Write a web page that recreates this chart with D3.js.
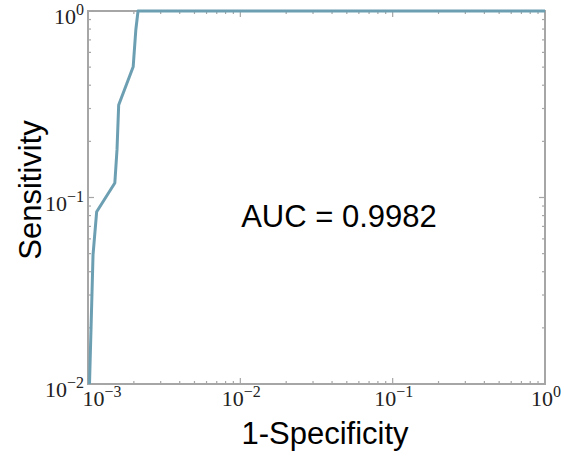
<!DOCTYPE html>
<html>
<head>
  <meta charset="UTF-8">
  <title>ROC curve</title>
  <script src="https://d3js.org/d3.v7.min.js"></script>
  <style>
    body { margin: 0; background: #fff; }
    .frame line, .frame path { stroke: #a6a6a6; }
    .tick-label { font-family: "Liberation Serif", "DejaVu Serif", serif; fill: #222; }
    .axis-title { font-family: "Liberation Sans", Arial, sans-serif; font-size: 31px; fill: #000; }
  </style>
</head>
<body>
  <div id="chart"></div>
  <script>
    // ROC points (false positive rate, true positive rate)
    const fpr = [1.023e-3, 1.079e-3, 1.14e-3, 1.50e-3, 1.55e-3, 1.59e-3, 1.98e-3, 2.06e-3, 2.13e-3, 1];
    const tpr = [0.01, 0.0492, 0.0839, 0.1196, 0.180, 0.313, 0.503, 0.791, 1, 1];
    const xTickExp = [-3, -2, -1, 0];
    const yTickExp = [-2, -1, 0];
    const aucText = "AUC = 0.9982";

    const W = 564, H = 457;
    const margin = {top: 11, right: 19, bottom: 73, left: 88};
    const w = W - margin.left - margin.right;
    const h = H - margin.top - margin.bottom;

    const svg = d3.select("#chart").append("svg")
      .attr("width", W)
      .attr("height", H);
    const g = svg.append("g")
      .attr("transform", `translate(${margin.left},${margin.top})`);

    const x = d3.scaleLog().domain([1e-3, 1]).range([0, w]);
    const y = d3.scaleLog().domain([1e-2, 1]).range([h, 0]);

    // minor + major ticks, drawn inward on all four sides
    const xTicks = x.ticks();
    const yTicks = y.ticks();
    const isMajor = v => Math.abs(Math.log10(v) - Math.round(Math.log10(v))) < 1e-9;

    const frame = g.append("g").attr("class", "frame");
    frame.append("rect")
      .attr("width", w).attr("height", h)
      .attr("fill", "none").attr("stroke", "#a6a6a6").attr("stroke-width", 2);

    xTicks.forEach(v => {
      const len = isMajor(v) ? 6 : 3;
      frame.append("line").attr("x1", x(v)).attr("x2", x(v)).attr("y1", h).attr("y2", h - len).attr("stroke-width", 1.2);
      frame.append("line").attr("x1", x(v)).attr("x2", x(v)).attr("y1", 0).attr("y2", len).attr("stroke-width", 1.2);
    });
    yTicks.forEach(v => {
      const len = isMajor(v) ? 6 : 3;
      frame.append("line").attr("y1", y(v)).attr("y2", y(v)).attr("x1", 0).attr("x2", len).attr("stroke-width", 1.2);
      frame.append("line").attr("y1", y(v)).attr("y2", y(v)).attr("x1", w).attr("x2", w - len).attr("stroke-width", 1.2);
    });

    // tick labels as 10^n
    function powLabel(sel, e) {
      sel.append("tspan").attr("font-size", 22).text("10");
      sel.append("tspan").attr("font-size", 16).attr("dy", -9)
        .text(e < 0 ? "\u2212" + (-e) : String(e));
    }
    xTickExp.forEach((e, i) => {
      const t = g.append("text").attr("class", "tick-label")
        .attr("x", x(Math.pow(10, e)) + (i === 0 ? 14 : 1))
        .attr("y", h + 22)
        .attr("text-anchor", "middle");
      powLabel(t, e);
    });
    yTickExp.forEach(e => {
      const t = g.append("text").attr("class", "tick-label")
        .attr("x", -4)
        .attr("y", y(Math.pow(10, e)) + 13)
        .attr("text-anchor", "end");
      powLabel(t, e);
    });

    // ROC curve
    const pts = fpr.map((d, i) => [d, tpr[i]]);
    g.append("path")
      .datum(pts)
      .attr("fill", "none")
      .attr("stroke", "#6d9fb3")
      .attr("stroke-width", 3)
      .attr("stroke-linejoin", "round")
      .attr("d", d3.line().x(d => x(d[0])).y(d => y(d[1])));

    // titles
    svg.append("text").attr("class", "axis-title")
      .attr("x", 325).attr("y", 444)
      .attr("text-anchor", "middle")
      .text("1-Specificity");
    svg.append("text").attr("class", "axis-title")
      .attr("transform", "translate(41,190) rotate(-90)")
      .attr("text-anchor", "middle")
      .text("Sensitivity");
    svg.append("text").attr("class", "axis-title")
      .attr("x", 339).attr("y", 227)
      .attr("text-anchor", "middle")
      .text(aucText);
  </script>
</body>
</html>
